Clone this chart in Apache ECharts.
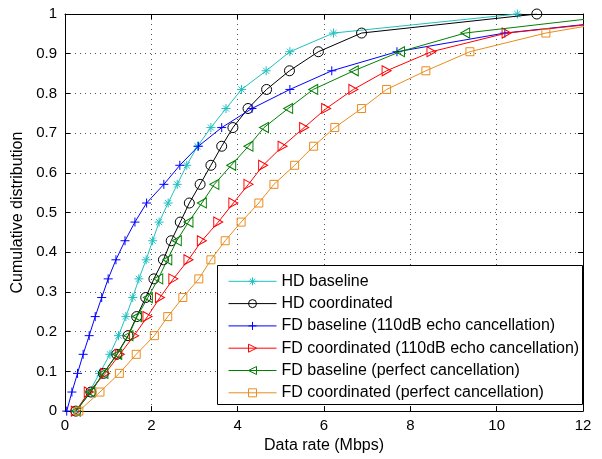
<!DOCTYPE html>
<html>
<head>
<meta charset="utf-8">
<script src="https://cdn.jsdelivr.net/npm/echarts@6/dist/echarts.min.js"></script>
<style>html,body{margin:0;padding:0;background:#fff;}#c{width:602px;height:459px;}</style>
</head>
<body>
<div id="c"></div>
<script>
// CDF levels at which markers are plotted
const cdfLevels = [0, 0.048, 0.095, 0.143, 0.19, 0.238, 0.286, 0.333, 0.381, 0.429, 0.476, 0.524, 0.571, 0.619, 0.667, 0.714, 0.762, 0.81, 0.857, 0.905, 0.952, 1.0];
// Data rate (Mbps) of each series at those levels
const hdBaseline    = [0.25, 0.56, 0.80, 1.04, 1.24, 1.41, 1.57, 1.71, 1.88, 2.03, 2.18, 2.39, 2.60, 2.82, 3.07, 3.38, 3.73, 4.09, 4.66, 5.21, 6.22, 10.48];
const hdCoordinated = [0.25, 0.60, 0.89, 1.20, 1.46, 1.66, 1.87, 2.06, 2.28, 2.46, 2.67, 2.88, 3.13, 3.38, 3.63, 3.89, 4.24, 4.67, 5.20, 5.87, 6.87, 10.93];
const fdBase110     = [0.04, 0.16, 0.29, 0.42, 0.56, 0.70, 0.85, 1.00, 1.18, 1.39, 1.62, 1.89, 2.29, 2.66, 3.09, 3.63, 4.33, 5.21, 6.18, 7.69, 10.19, 14.3];
const fdCoord110    = [0.25, 0.55, 0.93, 1.27, 1.60, 1.91, 2.20, 2.51, 2.86, 3.17, 3.55, 3.90, 4.25, 4.59, 5.04, 5.54, 6.05, 6.68, 7.45, 8.49, 10.23, 14.5];
const fdBasePerfect = [0.25, 0.59, 0.89, 1.21, 1.47, 1.67, 1.92, 2.16, 2.37, 2.59, 2.86, 3.17, 3.46, 3.85, 4.25, 4.61, 5.17, 5.75, 6.69, 7.76, 9.27, 13.1];
const fdCoordPerfect= [0.32, 0.81, 1.26, 1.65, 2.07, 2.38, 2.73, 3.10, 3.38, 3.71, 4.08, 4.49, 4.84, 5.32, 5.76, 6.25, 6.87, 7.45, 8.36, 9.38, 11.14, 13.7];

const seriesNames = [
  'HD baseline',
  'HD coordinated',
  'FD baseline (110dB echo cancellation)',
  'FD coordinated (110dB echo cancellation)',
  'FD baseline (perfect cancellation)',
  'FD coordinated (perfect cancellation)'
];
const seriesValues = [hdBaseline, hdCoordinated, fdBase110, fdCoord110, fdBasePerfect, fdCoordPerfect];
const xTicks = [0, 2, 4, 6, 8, 10, 12];

const colors = ['#1fc0c0', '#000000', '#0000ff', '#ff0000', '#008000', '#ea8c1c'];
const symbols = [
  'path://M5 0L5 10M0 5L10 5M1.6 1.6L8.4 8.4M1.6 8.4L8.4 1.6',
  'circle',
  'path://M5 0L5 10M0 5L10 5',
  'path://M0 0L10 5L0 10Z',
  'path://M10 0L0 5L10 10Z',
  'rect'
];
const symbolSizes = [9, 10, 9, [9, 10], [9, 10], 8];

const FONT = '"Liberation Sans", Arial, Helvetica, sans-serif';

const chart = echarts.init(document.getElementById('c'), null, {renderer: 'canvas'});

const series = seriesNames.map((name, i) => ({
  name: name,
  type: 'line',
  data: seriesValues[i].map((x, k) => [x, cdfLevels[k]]),
  symbol: symbols[i],
  symbolSize: symbolSizes[i],
  showAllSymbol: true,
  clip: true,
  smooth: false,
  lineStyle: {color: colors[i], width: 1},
  itemStyle: {color: 'rgba(0,0,0,0)', borderColor: colors[i], borderWidth: 1},
  emphasis: {disabled: true},
  animation: false,
  z: 2 + i * 0.01
}));

const gridLine = {show: true, lineStyle: {color: '#555', type: [1, 4], width: 1}};

chart.setOption({
  animation: false,
  textStyle: {fontFamily: FONT},
  grid: {left: 65, right: 19, top: 14, bottom: 42, containLabel: false},
  xAxis: [{
    type: 'value', min: 0, max: 12, interval: 2,
    name: 'Data rate (Mbps)', nameLocation: 'middle', nameGap: 25,
    nameTextStyle: {fontSize: 16, color: '#000', fontFamily: FONT},
    axisLine: {show: true, onZero: false, lineStyle: {color: '#000', width: 1}},
    axisTick: {show: true, inside: true, length: 5, lineStyle: {color: '#000'}},
    axisLabel: {fontSize: 15, color: '#000', margin: 7, fontFamily: FONT,
      customValues: xTicks},
    splitLine: gridLine
  }, {
    type: 'value', min: 0, max: 12, interval: 2, position: 'top',
    axisLine: {show: true, onZero: false, lineStyle: {color: '#000', width: 1}},
    axisTick: {show: true, inside: true, length: 5, lineStyle: {color: '#000'}},
    axisLabel: {show: false}, splitLine: {show: false}
  }],
  yAxis: [{
    type: 'value', min: 0, max: 1, interval: 0.1,
    name: 'Cumulative distribution', nameLocation: 'middle', nameGap: 34, nameRotate: 90,
    nameTextStyle: {fontSize: 16, color: '#000', fontFamily: FONT},
    axisLine: {show: true, onZero: false, lineStyle: {color: '#000', width: 1}},
    axisTick: {show: true, inside: true, length: 5, lineStyle: {color: '#000'}},
    axisLabel: {fontSize: 15, color: '#000', margin: 8, fontFamily: FONT},
    splitLine: gridLine
  }, {
    type: 'value', min: 0, max: 1, interval: 0.1, position: 'right',
    axisLine: {show: true, onZero: false, lineStyle: {color: '#000', width: 1}},
    axisTick: {show: true, inside: true, length: 5, lineStyle: {color: '#000'}},
    axisLabel: {show: false}, splitLine: {show: false}
  }],
  legend: {
    orient: 'vertical', left: 228, top: 273.3, padding: 0,
    itemWidth: 48, itemHeight: 10, itemGap: 6.3,
    textStyle: {fontSize: 16, color: '#000', fontFamily: FONT},
    lineStyle: {width: 1},
    itemStyle: {borderWidth: 1},
    data: seriesNames, z: 20,
    selectedMode: false
  },
  graphic: [{
    type: 'rect', z: 15, silent: true,
    shape: {x: 217.5, y: 265.5, width: 365, height: 139},
    style: {fill: '#fff', stroke: '#000', lineWidth: 1}
  }],
  series: series
});
</script>
</body>
</html>
